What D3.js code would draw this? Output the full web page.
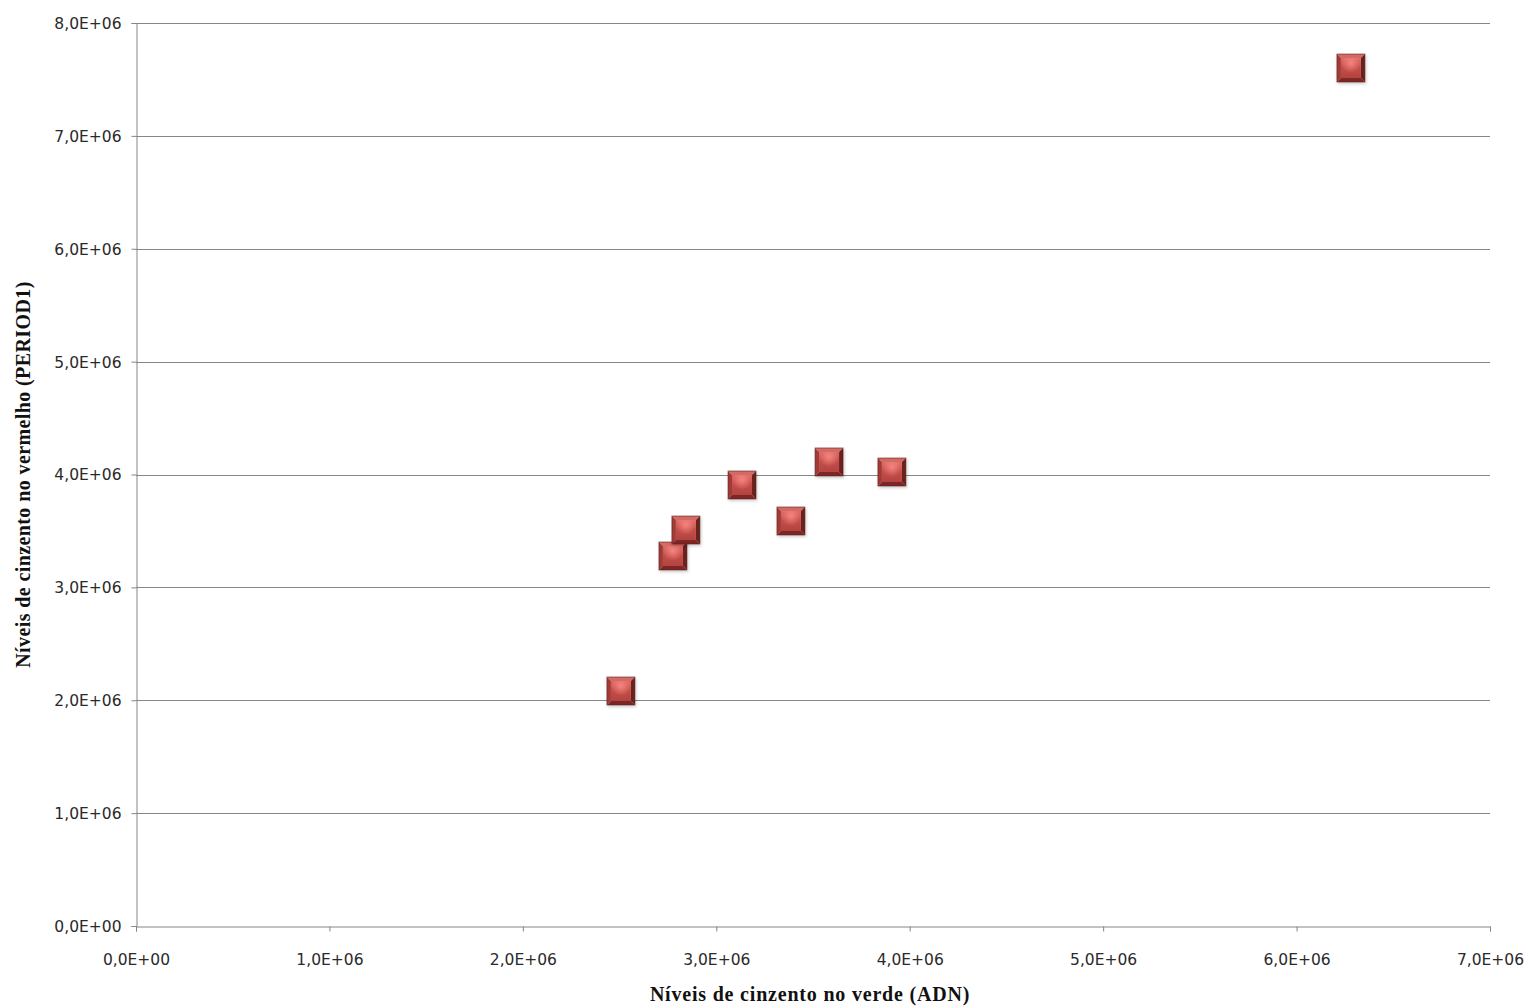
<!DOCTYPE html>
<html>
<head>
<meta charset="utf-8">
<script src="https://cdn.jsdelivr.net/npm/d3@7"></script>
<style>
  html, body { margin: 0; padding: 0; background: #fff; }
  svg { display: block; }
</style>
</head>
<body>
<svg id="chart" width="1532" height="1008"></svg>
<script>
// Grey levels: green channel (ADN) vs red channel (PERIOD1)
const verdeADN = [2.507e6, 2.776e6, 2.843e6, 3.133e6, 3.386e6, 3.583e6, 3.908e6, 6.281e6];
const vermelhoPER1 = [2.082e6, 3.278e6, 3.508e6, 3.907e6, 3.588e6, 4.111e6, 4.022e6, 7.601e6];
const xTicks = [0, 1e6, 2e6, 3e6, 4e6, 5e6, 6e6, 7e6];
const yTicks = [0, 1e6, 2e6, 3e6, 4e6, 5e6, 6e6, 7e6, 8e6];
const xTitle = "Níveis de cinzento no verde (ADN)";
const yTitle = "Níveis de cinzento no vermelho (PERIOD1)";

const points = verdeADN.map((v, i) => ({ x: v, y: vermelhoPER1[i] }));

const svg = d3.select("#chart");
const plot = { left: 136, right: 1490, top: 23, bottom: 926 };

const x = d3.scaleLinear().domain([0, 7e6]).range([plot.left, plot.right]);
const y = d3.scaleLinear().domain([0, 8e6]).range([plot.bottom, plot.top]);

// Excel-style scientific label: 3,0E+06
const fmt = v => {
  if (v === 0) return "0,0E+00";
  const e = Math.floor(Math.log10(v));
  const m = (v / Math.pow(10, e)).toFixed(1).replace(".", ",");
  return m + "E+" + String(e).padStart(2, "0");
};

const lineColor = "#868686";

// horizontal gridlines
svg.append("g")
  .selectAll("line")
  .data(yTicks.filter(t => t > 0))
  .join("line")
  .attr("x1", plot.left).attr("x2", plot.right)
  .attr("y1", d => Math.round(y(d)) + 0.5).attr("y2", d => Math.round(y(d)) + 0.5)
  .attr("stroke", lineColor).attr("stroke-width", 1);

// y axis
const yAxis = svg.append("g")
  .attr("transform", `translate(${plot.left + 0.5},0)`)
  .call(d3.axisLeft(y).tickValues(yTicks).tickFormat(fmt).tickSize(5).tickPadding(10));
// x axis
const xAxis = svg.append("g")
  .attr("transform", `translate(0,${plot.bottom + 0.5})`)
  .call(d3.axisBottom(x).tickValues(xTicks).tickFormat(fmt).tickSize(5).tickPadding(22));

[xAxis, yAxis].forEach(g => {
  g.select(".domain").attr("stroke", lineColor);
  g.selectAll(".tick line").attr("stroke", lineColor);
  g.selectAll(".tick text")
    .attr("fill", "#2a2a2a")
    .style("font-family", "'DejaVu Sans', Verdana, sans-serif")
    .style("font-size", "15.5px");
});
yAxis.selectAll(".tick text").attr("dy", "0.35em");

// axis titles
svg.append("text")
  .attr("x", (plot.left + plot.right) / 2 - 3).attr("y", 1001)
  .attr("text-anchor", "middle")
  .style("font-family", "'Liberation Serif', 'Times New Roman', serif")
  .style("font-weight", "bold").style("font-size", "20px")
  .style("letter-spacing", "0.8px")
  .attr("fill", "#111")
  .text(xTitle);

svg.append("text")
  .attr("transform", `translate(30,${(plot.top + plot.bottom) / 2}) rotate(-90)`)
  .attr("text-anchor", "middle")
  .style("font-family", "'Liberation Serif', 'Times New Roman', serif")
  .style("font-weight", "bold").style("font-size", "20px")
  .style("letter-spacing", "0.4px")
  .attr("fill", "#111")
  .text(yTitle);

// bevelled square markers
const defs = svg.append("defs");
const face = defs.append("linearGradient").attr("id", "face").attr("x1", 0).attr("y1", 0).attr("x2", 0).attr("y2", 1);
face.append("stop").attr("offset", "0%").attr("stop-color", "#dc6a65");
face.append("stop").attr("offset", "45%").attr("stop-color", "#c44e4a");
face.append("stop").attr("offset", "100%").attr("stop-color", "#b24340");
const glow = defs.append("radialGradient").attr("id", "glow").attr("cx", "50%").attr("cy", "25%").attr("r", "50%");
glow.append("stop").attr("offset", "0%").attr("stop-color", "#ff8e88").attr("stop-opacity", 0.8);
glow.append("stop").attr("offset", "100%").attr("stop-color", "#ff8e88").attr("stop-opacity", 0);
defs.append("filter").attr("id", "shadow").attr("x", "-30%").attr("y", "-30%").attr("width", "160%").attr("height", "160%")
  .append("feDropShadow").attr("dx", 1).attr("dy", 1.5).attr("stdDeviation", 1.5)
  .attr("flood-color", "#000").attr("flood-opacity", 0.22);

const S = 14, B = 4; // half size and bevel width
const mk = svg.append("g")
  .selectAll("g")
  .data(points)
  .join("g")
  .attr("transform", d => `translate(${x(d.x)},${y(d.y)})`)
  .attr("filter", "url(#shadow)");

const poly = pts => "M" + pts.map(p => p.join(",")).join("L") + "Z";
mk.append("path").attr("d", poly([[-S,-S],[S,-S],[S-B,-S+B],[-S+B,-S+B]])).attr("fill", "#d36a65");
mk.append("path").attr("d", poly([[-S,-S],[-S+B,-S+B],[-S+B,S-B],[-S,S]])).attr("fill", "#a03a37");
mk.append("path").attr("d", poly([[S,-S],[S,S],[S-B,S-B],[S-B,-S+B]])).attr("fill", "#6a201e");
mk.append("path").attr("d", poly([[-S,S],[S,S],[S-B,S-B],[-S+B,S-B]])).attr("fill", "#7e2825");
mk.append("rect").attr("x", -S + B).attr("y", -S + B).attr("width", 2 * (S - B)).attr("height", 2 * (S - B)).attr("fill", "url(#face)");
mk.append("rect").attr("x", -S + B).attr("y", -S + B).attr("width", 2 * (S - B)).attr("height", 2 * (S - B)).attr("fill", "url(#glow)");
mk.append("rect").attr("x", -S).attr("y", -S).attr("width", 2 * S).attr("height", 2 * S)
  .attr("fill", "none").attr("stroke", "#5e1b19").attr("stroke-width", 0.8).attr("stroke-opacity", 0.7);
</script>
</body>
</html>
